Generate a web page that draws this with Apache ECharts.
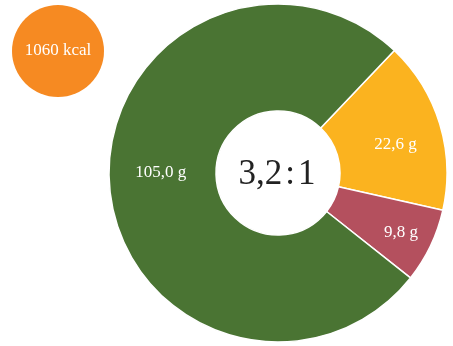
<!DOCTYPE html>
<html><head><meta charset="utf-8">
<script src="https://cdn.jsdelivr.net/npm/echarts@6/dist/echarts.min.js"></script>
<style>html,body{margin:0;padding:0;background:#fff}#c{width:453px;height:346px}</style>
</head><body><div id="c"></div>
<script>
const categories = ['Fett', 'Protein', 'Kohlenhydrate'];
const values = [22.6, 9.8, 105.0];
const labels = ['22,6 g', '9,8 g', '105,0 g'];
const colors = ['#fbb31f', '#b4505e', '#4a7433'];
const ratioText = '3,2\u200A:\u200A1';
const kcalText = '1060 kcal';
const FONT = '"Liberation Serif", "DejaVu Serif", serif';

const labelShift = [[4, 6], [16, 8], [1, -9]];

const chart = echarts.init(document.getElementById('c'), null, {renderer: 'canvas'});
chart.setOption({
  animation: false,
  graphic: [
    {type: 'circle', shape: {cx: 58, cy: 51, r: 46}, style: {fill: '#f68a22'}},
    {type: 'text', x: 58, y: 51, style: {text: kcalText, fill: '#fff', font: '17px ' + FONT, align: 'center', verticalAlign: 'middle'}},
    {type: 'text', x: 277, y: 175, style: {text: ratioText, fill: '#222', font: '35px ' + FONT, align: 'center', verticalAlign: 'middle'}}
  ],
  series: [{
    type: 'pie',
    center: [278, 173],
    radius: [62, 169],
    startAngle: 46.5,
    clockwise: true,
    itemStyle: {borderColor: '#fff', borderWidth: 1.5},
    label: {show: true, position: 'inside', color: '#fff', fontFamily: FONT, fontSize: 17,
      formatter: p => labels[p.dataIndex]},
    labelLine: {show: false},
    labelLayout: p => ({dx: labelShift[p.dataIndex][0], dy: labelShift[p.dataIndex][1]}),
    emphasis: {disabled: true},
    data: categories.map((c, i) => ({name: c, value: values[i], itemStyle: {color: colors[i]}}))
  }]
});
</script></body></html>
